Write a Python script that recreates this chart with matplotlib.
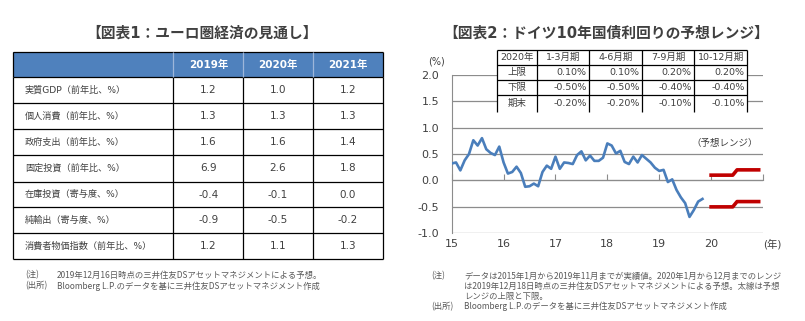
import numpy as np
import matplotlib
matplotlib.use('Agg')
import matplotlib.pyplot as plt
from matplotlib.patches import Rectangle

plt.rcParams['font.family'] = ['DejaVu Sans', 'Noto Sans CJK JP']

W, H = 805, 321

# 図表1：ユーロ圏経済の見通し
years = ['2019年', '2020年', '2021年']
items = ['実質GDP（前年比、%）', '個人消費（前年比、%）', '政府支出（前年比、%）',
         '固定投資（前年比、%）', '在庫投資（寄与度、%）', '純輸出（寄与度、%）',
         '消費者物価指数（前年比、%）']
v2019 = [1.2, 1.3, 1.6, 6.9, -0.4, -0.9, 1.2]
v2020 = [1.0, 1.3, 1.6, 2.6, -0.1, -0.5, 1.1]
v2021 = [1.2, 1.3, 1.4, 1.8, 0.0, -0.2, 1.3]

# 図表2：ドイツ10年国債利回り（月次, 2015年1月〜2019年11月）
bund = [0.32, 0.34, 0.19, 0.38, 0.50, 0.76, 0.66, 0.80, 0.59, 0.52, 0.48, 0.64,
        0.34, 0.13, 0.16, 0.26, 0.14, -0.12, -0.11, -0.06, -0.11, 0.16, 0.28, 0.22,
        0.45, 0.22, 0.34, 0.33, 0.31, 0.48, 0.55, 0.38, 0.47, 0.37, 0.37, 0.43,
        0.70, 0.66, 0.51, 0.56, 0.35, 0.31, 0.45, 0.34, 0.48, 0.41, 0.34, 0.24,
        0.18, 0.20, -0.03, 0.02, -0.18, -0.32, -0.43, -0.69, -0.56, -0.40, -0.35]
quarters = ['1-3月期', '4-6月期', '7-9月期', '10-12月期']
q_upper = [0.10, 0.10, 0.20, 0.20]
q_lower = [-0.50, -0.50, -0.40, -0.40]
q_end = [-0.20, -0.20, -0.10, -0.10]
xticks = [15, 16, 17, 18, 19, 20]

txt = '#404040'
note_c = '#595959'
grid_c = '#8c8c8c'

fig = plt.figure(figsize=(W / 100, H / 100), dpi=100)

# ---- 折れ線グラフ ----
x0, x1, ytop, ybot = 451.7, 763.0, 74.7, 233.3
ax = fig.add_axes([x0 / W, (H - ybot) / H, (x1 - x0) / W, (ybot - ytop) / H])
t = 15 + np.arange(len(bund)) / 12
ax.plot(t, bund, color='#4a7ebb', lw=1.9, solid_joinstyle='round', zorder=3)
tf = 20 + np.arange(12) / 12
ax.plot(tf, np.repeat(q_upper, 3), color='#c00000', lw=2.6, zorder=3)
ax.plot(tf, np.repeat(q_lower, 3), color='#c00000', lw=2.6, zorder=3)

ax.set_xlim(15, 21)
ax.set_ylim(-1, 2)
ax.set_yticks(np.arange(-1, 2.01, 0.5))
ax.set_yticklabels([f'{v:.1f}' for v in np.arange(-1, 2.01, 0.5)])
ax.yaxis.grid(True, color=grid_c, lw=0.9)
ax.set_axisbelow(True)
ax.tick_params(axis='y', length=0, pad=9, labelsize=8, labelcolor=txt)
for s in ['top', 'right']:
    ax.spines[s].set_visible(False)
ax.spines['left'].set_color(grid_c)
ax.spines['bottom'].set_position(('data', 0))
ax.spines['bottom'].set_color(grid_c)
ax.set_xticks(xticks + [21])
ax.tick_params(axis='x', direction='in', length=4, color=grid_c, labelbottom=False)

sec = ax.secondary_xaxis('bottom')
sec.set_xticks(xticks)
sec.set_xticklabels([str(v) for v in xticks])
sec.spines['bottom'].set_visible(False)
sec.tick_params(length=0, pad=4, labelsize=8, labelcolor=txt)

# ---- 表・注記 ----
ov = fig.add_axes([0, 0, 1, 1], zorder=5)
ov.set_xlim(0, W)
ov.set_ylim(H, 0)
ov.axis('off')
ov.patch.set_alpha(0)

ov.text(201.7, 33.5, '【図表1：ユーロ圏経済の見通し】', ha='center', va='center',
        fontsize=10.6, fontweight='bold', color=txt)
ov.text(606.7, 33.5, '【図表2：ドイツ10年国債利回りの予想レンジ】', ha='center', va='center',
        fontsize=10.6, fontweight='bold', color=txt)

# 図表1 の表
cx = [13.3, 173.3, 243.3, 312.7, 383.3]
ry = [51.7, 77.3, 103.3, 129.3, 155.0, 181.7, 207.3, 233.3, 259.0]
ov.add_patch(Rectangle((cx[0], ry[0]), cx[-1] - cx[0], ry[1] - ry[0],
                       facecolor='#4f81bd', edgecolor='none'))
for y in ry:
    ov.plot([cx[0], cx[-1]], [y, y], color='black', lw=0.9, solid_capstyle='butt')
for x in cx:
    ov.plot([x, x], [ry[1], ry[-1]], color='black', lw=0.9, solid_capstyle='butt')
    ov.plot([x, x], [ry[0], ry[1]], color='black' if x in (cx[0], cx[-1]) else '#9db6da',
            lw=0.9, solid_capstyle='butt')
for j, yr in enumerate(years):
    ov.text((cx[j + 1] + cx[j + 2]) / 2, (ry[0] + ry[1]) / 2, yr, ha='center', va='center',
            fontsize=7.5, fontweight='bold', color='white')
cols = [v2019, v2020, v2021]
for i, name in enumerate(items):
    yc = (ry[i + 1] + ry[i + 2]) / 2
    ov.text(25, yc, name, ha='left', va='center', fontsize=6.6, color=txt)
    for j, col in enumerate(cols):
        ov.text((cx[j + 1] + cx[j + 2]) / 2, yc, f'{col[i]:.1f}', ha='center', va='center',
                fontsize=7.5, color=txt)

# 図表2 の予想表
ix = [497.3, 537.3, 589.0, 642.3, 694.0, 747.3]
iy = [50.0, 65.0, 80.0, 95.0, 111.7]
ov.add_patch(Rectangle((ix[0], iy[0]), ix[-1] - ix[0], iy[-1] - iy[0],
                       facecolor='white', edgecolor='none'))
for y in iy[:-1]:
    ov.plot([ix[0], ix[-1]], [y, y], color='black', lw=0.9, solid_capstyle='butt')
for x in ix:
    ov.plot([x, x], [iy[0], iy[-1]], color='black', lw=0.9, solid_capstyle='butt')
ov.text((ix[0] + ix[1]) / 2, (iy[0] + iy[1]) / 2, '2020年', ha='center', va='center',
        fontsize=6.8, color=txt)
for j, q in enumerate(quarters):
    ov.text((ix[j + 1] + ix[j + 2]) / 2, (iy[0] + iy[1]) / 2, q, ha='center', va='center',
            fontsize=6.8, color=txt)
for i, (lab, vals) in enumerate(zip(['上限', '下限', '期末'], [q_upper, q_lower, q_end])):
    yc = (iy[i + 1] + iy[i + 2]) / 2
    ov.text((ix[0] + ix[1]) / 2, yc, lab, ha='center', va='center', fontsize=6.8, color=txt)
    for j, v in enumerate(vals):
        ov.text(ix[j + 2] - 2.5, yc, f'{v:.2f}%', ha='right', va='center',
                fontsize=6.8, color=txt)

ov.text(436.7, 61.5, '(%)', ha='center', va='center', fontsize=7, color=txt)
ov.text(758, 143.3, '（予想レンジ）', ha='right', va='center', fontsize=6.8, color=txt)
ov.text(772.7, 244.5, '(年)', ha='center', va='center', fontsize=7.5, color=txt)

# 注記
nf = dict(ha='left', va='center', fontsize=6.0, color=note_c, family=['Noto Sans CJK JP'])
ov.text(25, 275, '(注)', **nf)
ov.text(56.7, 275, '2019年12月16日時点の三井住友DSアセットマネジメントによる予想。', **nf)
ov.text(25, 286, '(出所)', **nf)
ov.text(56.7, 286, 'Bloomberg L.P.のデータを基に三井住友DSアセットマネジメント作成', **nf)

ov.text(431.7, 276, '(注)', **nf)
ov.text(464.3, 276, 'データは2015年1月から2019年11月までが実績値。2020年1月から12月までのレンジ', **nf)
ov.text(464.3, 286.7, 'は2019年12月18日時点の三井住友DSアセットマネジメントによる予想。太線は予想', **nf)
ov.text(464.3, 296.5, 'レンジの上限と下限。', **nf)
ov.text(431.7, 306.7, '(出所)', **nf)
ov.text(464.3, 306.7, 'Bloomberg L.P.のデータを基に三井住友DSアセットマネジメント作成', **nf)

fig.savefig('out.png', dpi=100)
